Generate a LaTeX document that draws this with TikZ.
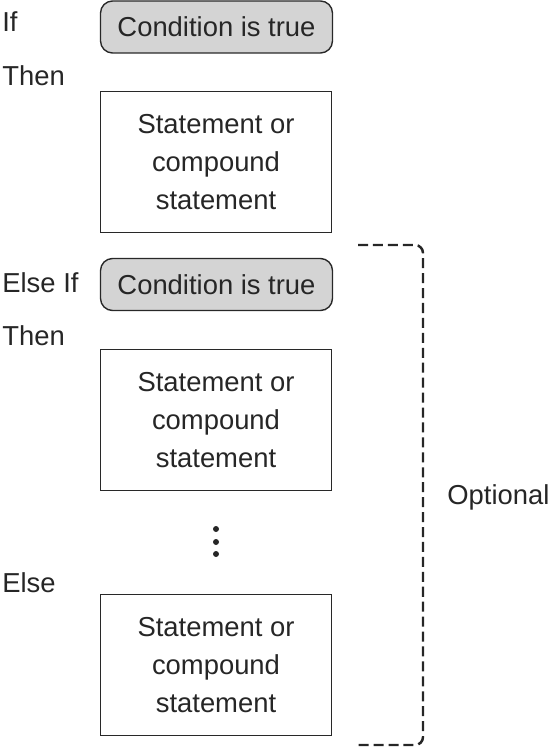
\documentclass[tikz,border=0pt]{standalone}
\usepackage{fontspec}
\setmainfont{Liberation Sans}
\usepackage{tikz}
\definecolor{condgray}{RGB}{212, 212, 212}
\definecolor{linegray}{RGB}{40, 40, 40}

\begin{document}
\begin{tikzpicture}[x=0.02cm, y=-0.02cm,
		every node/.style={font=\fontsize{15.6pt}{21.6pt}\selectfont, text=black!85},
		cond/.style={draw=linegray, fill=condgray, line width=0.8pt, rounded corners=0.24cm, minimum width=4.64cm, minimum height=1.04cm, inner sep=0pt},
		stmt/.style={draw=linegray, line width=0.8pt, minimum width=4.62cm, minimum height=2.82cm, align=center, inner sep=0pt},
		kw/.style={anchor=west, inner sep=0pt},
		brace/.style={draw=black!85, line width=1.4pt, dash pattern=on 5.7pt off 2.8pt, rounded corners=0.16cm}]
			\useasboundingbox (0, 0) rectangle (549, 750);
			% if / then
			\node[kw] (lif) at (2, 22) {If};
			\node[cond] (cond1) at (216.5, 27) {Condition is true};
			\node[kw] (lthen1) at (2, 76) {Then};
			\node[stmt] (stmt1) at (216, 162) {Statement or\\compound\\statement};
			% else if / then
			\node[kw] (lelseif) at (2, 283) {Else If};
			\node[cond] (cond2) at (216.5, 284.5) {Condition is true};
			\node[kw] (lthen2) at (2, 336) {Then};
			\node[stmt] (stmt2) at (216, 420) {Statement or\\compound\\statement};
			% more branches
			\foreach \y in {529, 542, 554}
				\fill[black!85] (216, \y) circle (3);
			% else
			\node[kw] (lelse) at (2, 583) {Else};
			\node[stmt] (stmt3) at (216, 665) {Statement or\\compound\\statement};
			% optional part
			\coordinate (btop) at (358, 245);
			\coordinate (bbot) at (358, 745);
			\draw[brace] (btop) -- (423, 245) -- (423, 745) -- (bbot);
			\node[kw] (lopt) at (447, 497) {Optional};
		\end{tikzpicture}
\end{document}
